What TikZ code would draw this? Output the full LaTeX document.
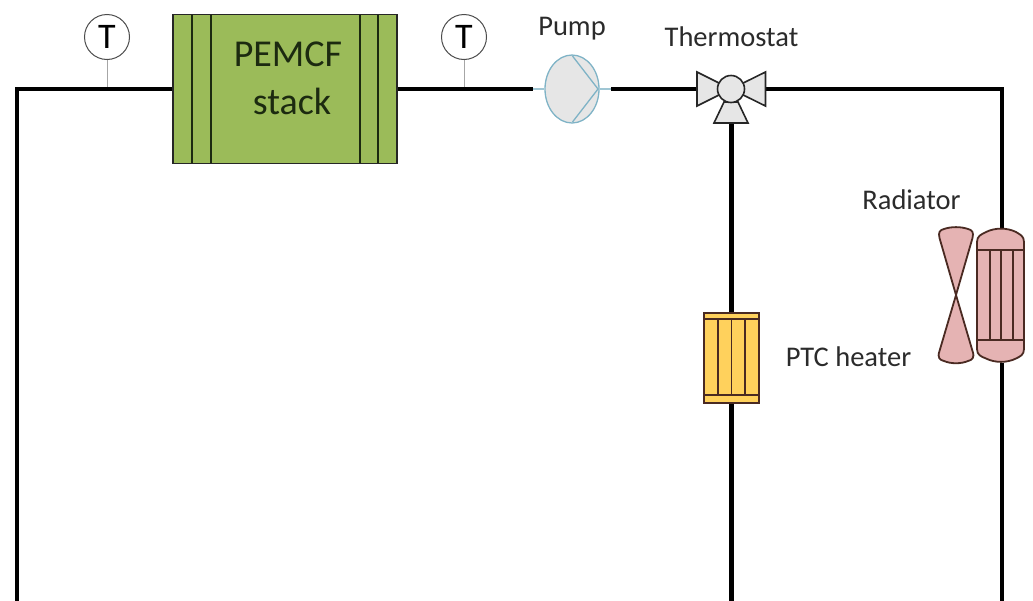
\documentclass[tikz,border=0pt]{standalone}
\usepackage{fontspec}
\setmainfont{Carlito}
\usetikzlibrary{shapes.geometric}
\definecolor{stackgreen}{HTML}{9BBB59}
\definecolor{heateryellow}{HTML}{FFD15C}
\definecolor{radpink}{HTML}{E5B3B3}
\definecolor{valvegray}{HTML}{E6E6E6}
\definecolor{pumpblue}{HTML}{7FB3C6}
\definecolor{darkline}{HTML}{262626}
\definecolor{inkgreen}{HTML}{1C2A10}
\definecolor{inkbrown}{HTML}{4A2A22}
\definecolor{textgray}{HTML}{2B2B2B}
\tikzset{
  x=1pt,y=-1pt,
  pipe/.style={line width=4.2pt,black,line cap=butt,line join=miter},
  thinblue/.style={line width=1.2pt,pumpblue!75},
  sensorline/.style={line width=.8pt,black!35},
  gauge/.style={circle,draw=black!70,line width=1pt,fill=white,minimum size=45pt,inner sep=0pt},
  gaugetxt/.style={inner sep=0pt,anchor=base,text=black,font=\fontsize{36}{36}\selectfont},
  lbl/.style={inner sep=0pt,anchor=base,text=textgray,font=\fontsize{28.5}{30}\selectfont},
  stackbox/.style={rectangle,draw=darkline,line width=1.8pt,fill=stackgreen,minimum width=224pt,minimum height=149pt,inner sep=0pt},
  stacktxt/.style={inner sep=0pt,anchor=base,text=inkgreen,font=\fontsize{38}{40}\selectfont},
  heatbox/.style={rectangle,draw=inkbrown,line width=1.8pt,fill=heateryellow,minimum width=55pt,minimum height=90pt,inner sep=0pt},
  inner/.style={line width=1.8pt,inkbrown},
  pumpshape/.style={ellipse,draw=pumpblue,line width=1.3pt,fill=valvegray,minimum width=54pt,minimum height=68pt,inner sep=0pt},
  valvepart/.style={draw=darkline,line width=1.6pt,fill=valvegray,line join=miter},
}
\begin{document}
\begin{tikzpicture}
\useasboundingbox (0,0) rectangle (1033,600);
% free ends and corners
\coordinate (leftend) at (17,602);
\coordinate (cornerL) at (17,89);
\coordinate (cornerR) at (1002,89);
\coordinate (heaterend) at (731.5,602);
\coordinate (radend) at (1002,602);
\coordinate (tapA) at (107,89);
\coordinate (tapB) at (464,89);
\coordinate (pumpInEnd) at (533,89);
\coordinate (pumpOutEnd) at (611,89);
\coordinate (valveL) at (698,89);
\coordinate (valveR) at (766,89);
\coordinate (valveB) at (731.5,123);

% stack
\node[stackbox] (stack) at (285,89) {};
\foreach \x in {192,211,360,378}
  \draw[line width=1.6pt,inkgreen] (\x,15) -- (\x,163);
\node[stacktxt] (stackA) at (288,66) {PEMCF};
\node[stacktxt] (stackB) at (292,114) {stack};

% gauges
\node[gauge] (t1) at (107,37) {};
\node[gauge] (t2) at (464,37) {};
\node[gaugetxt] (t1txt) at (107,48) {T};
\node[gaugetxt] (t2txt) at (464,48) {T};
\draw[sensorline] (t1) -- (tapA);
\draw[sensorline] (t2) -- (tapB);

% pipes
\draw[pipe] (leftend) -- (cornerL) -- (stack.west);
\draw[pipe] (stack.east) -- (pumpInEnd);
\draw[pipe] (pumpOutEnd) -- (valveL);
\draw[pipe] (valveR) -- (cornerR) -- (1002,229);
\draw[pipe] (valveB) -- (731.5,313);

% pump
\node[pumpshape] (pump) at (572,89) {};
\draw[thinblue] (pumpInEnd) -- (pump.west);
\draw[thinblue] (pump.east) -- (pumpOutEnd);
\draw[pumpblue,line width=1.3pt] (572.5,56) -- (598,89) -- (572.5,122);
\node[lbl] (pumplbl) at (572,35.5) {Pump};

% valve
\draw[valvepart] (731,89) -- (697,72) -- (697,106) -- cycle;
\draw[valvepart] (731,89) -- (765.5,72) -- (765.5,106) -- cycle;
\draw[valvepart] (724,102) -- (738,102) -- (748,123) -- (714,123) -- cycle;
\node[circle,draw=darkline,line width=1.6pt,fill=valvegray,minimum size=27pt,inner sep=0pt] (valve) at (731,89) {};
\node[lbl] (thermolbl) at (731.5,46.5) {Thermostat};

% heater
\node[heatbox] (heater) at (731.5,358) {};
\draw[inner] (704,319) -- (759,319);
\draw[inner] (704,395) -- (759,395);
\foreach \x in {717.7,731.5,745}
  \draw[inner] (\x,319) -- (\x,395);
\draw[pipe] (heater.south) -- (heaterend);
\node[lbl] (ptclbl) at (848.5,366.5) {PTC heater};

% radiator
\node[inner sep=0pt,minimum width=47pt,minimum height=135pt] (rad) at (1002,295.5) {};
\draw[inner,fill=radpink,line join=round]
  (977,242) .. controls (977,236) and (981,234.5) .. (986,232)
  .. controls (995,227.5) and (1007,227.5) .. (1016,232)
  .. controls (1020,234.5) and (1024,236) .. (1024,242)
  -- (1024,349) .. controls (1024,355) and (1020,356.5) .. (1016,358.5)
  .. controls (1007,363) and (995,363) .. (986,358.5)
  .. controls (981,356.5) and (977,355) .. (977,349) -- cycle;
\draw[inner] (977,250) -- (1024,250);
\draw[inner] (977,340) -- (1024,340);
\foreach \x in {990,1001,1013}
  \draw[inner] (\x,250) -- (\x,340);
\draw[pipe] (rad.south) -- (radend);
\node[lbl] (radlbl) at (911.5,209.5) {Radiator};

% fan
\draw[inner,fill=radpink,line join=round]
  (956,295) -- (972.5,238) .. controls (974,232) and (972,230) .. (968,229)
  .. controls (961,226.5) and (951,226.5) .. (944,229)
  .. controls (940,230) and (938,232) .. (939.5,238) -- cycle;
\draw[inner,fill=radpink,line join=round]
  (956,295) -- (972.5,351) .. controls (975,358) and (972,360) .. (968,361)
  .. controls (961,364) and (951,364) .. (944,361)
  .. controls (940,360) and (937,358) .. (939.5,351) -- cycle;
\end{tikzpicture}
\end{document}
